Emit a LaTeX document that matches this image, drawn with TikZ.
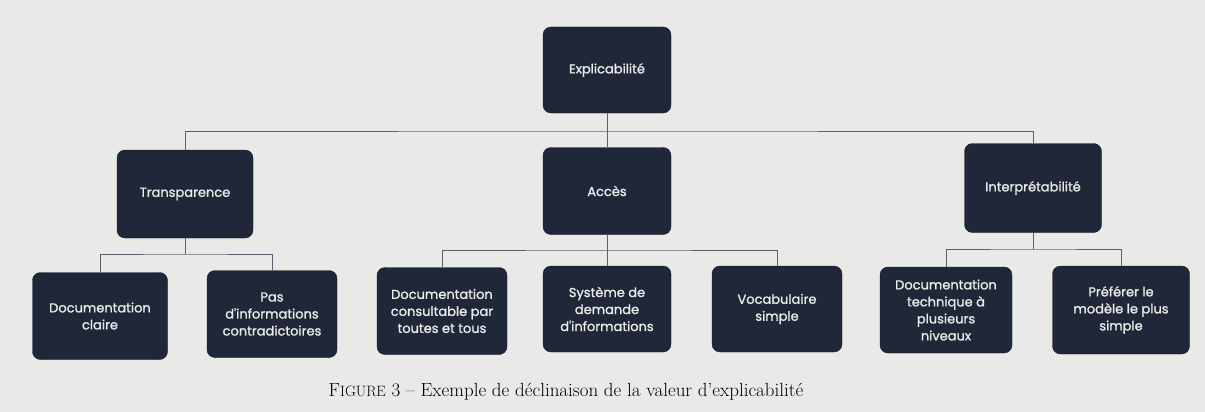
\documentclass[tikz,border=0pt]{standalone}
\usepackage{fontspec}
\newfontfamily\boxfont[FakeBold=1.2]{Poppins}
\definecolor{boxc}{HTML}{1F2738}
\definecolor{linec}{HTML}{56636F}
\definecolor{pagec}{HTML}{E9E9E8}
\begin{document}
\begin{tikzpicture}[x=1pt,y=-1pt,
  box/.style={fill=boxc, draw=boxc!70!black, rounded corners=8pt, text=white!92!black,
    font=\boxfont\fontsize{13}{17}\selectfont, align=center, inner sep=0pt},
  conn/.style={draw=linec, line width=1pt}]
\fill[pagec] (0,0) rectangle (1205,412);
\useasboundingbox (0,0) rectangle (1205,412);
% top
\node[box, minimum width=128, minimum height=86] (expl) at (607,70) {Explicabilité};
% level 1
\node[box, minimum width=136, minimum height=88] (trans) at (185,194) {Transparence};
\node[box, minimum width=128, minimum height=87] (acces) at (607,191) {Accès};
\node[box, minimum width=137, minimum height=89] (interp) at (1033,188) {Interprétabilité};
% leaves
\node[box, minimum width=135, minimum height=87] (docc) at (100,316) {Documentation\\claire};
\node[box, minimum width=130, minimum height=87] (pas) at (272,314) {Pas\\d'informations\\contradictoires};
\node[box, minimum width=130, minimum height=87] (docs) at (442,311) {Documentation\\consultable par\\toutes et tous};
\node[box, minimum width=128, minimum height=86] (sys) at (607,309) {Système de\\demande\\d'informations};
\node[box, minimum width=130, minimum height=86] (voc) at (777,309) {Vocabulaire\\simple};
\node[box, minimum width=132, minimum height=86] (doct) at (946,310) {Documentation\\technique à\\plusieurs\\niveaux};
\node[box, minimum width=137, minimum height=88] (pref) at (1121,310) {Préférer le\\modèle le plus\\simple};
% connectors
\coordinate (j0) at (607,131);
\draw[conn] (expl.south) -- (acces.north);
\draw[conn] (trans.north) |- (j0) -| (interp.north);
\coordinate (j1) at (185,254);
\draw[conn] (trans.south) -- (j1);
\draw[conn] (docc.north) |- (j1) -| (pas.north);
\coordinate (j2) at (607,250);
\draw[conn] (acces.south) -- (j2);
\draw[conn] (docs.north) |- (j2) -| (voc.north);
\draw[conn] (j2) -- (sys.north);
\coordinate (j3) at (1033,249);
\draw[conn] (interp.south) -- (j3);
\draw[conn] (doct.north) |- (j3) -| (pref.north);
% caption
\node[font=\fontsize{19}{22}\selectfont, inner sep=0pt] (cap) at (566,392) {F{\fontsize{15}{18}\selectfont IGURE} 3 -- Exemple de déclinaison de la valeur d'explicabilité};
\end{tikzpicture}
\end{document}
